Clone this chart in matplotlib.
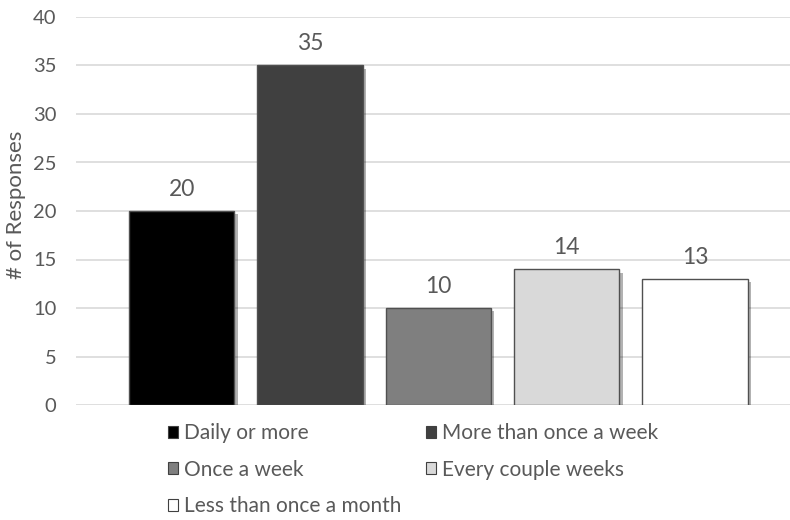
import matplotlib
matplotlib.use("Agg")
import matplotlib.pyplot as plt
import matplotlib.patheffects as pe
from matplotlib.patches import Patch

categories = ["Daily or more", "More than once a week", "Once a week",
              "Every couple weeks", "Less than once a month"]
responses = [20, 35, 10, 14, 13]
fills = ["#000000", "#404040", "#7f7f7f", "#d9d9d9", "#ffffff"]
yticks = [0, 5, 10, 15, 20, 25, 30, 35, 40]

TEXT = "#595959"
plt.rcParams["font.family"] = ["Lato", "DejaVu Sans"]

fig = plt.figure(figsize=(7.9, 5.2), dpi=100)
ax = fig.add_axes([76 / 790, 1 - 405 / 520, 1 - 76 / 790, (405 - 17) / 520])

shadow = [pe.SimplePatchShadow(offset=(2.5, -2.5), shadow_rgbFace="#000000", alpha=0.3),
          pe.Normal()]
xs = range(len(categories))
bars = ax.bar(xs, responses, width=0.82, color=fills, edgecolor="#505050",
              linewidth=1.0, zorder=3)
for b in bars:
    b.set_path_effects(shadow)

for x, v in zip(xs, responses):
    ax.annotate(str(v), (x, v), xytext=(0, 8), textcoords="offset points",
                ha="center", va="bottom", fontsize=16.5, color=TEXT)

ax.set_xlim(-0.824, 4.74)
ax.set_ylim(0, 40)
ax.set_yticks(yticks)
ax.set_xticks([])
ax.yaxis.grid(True, color="#d9d9d9", linewidth=1.2, zorder=0)
ax.set_axisbelow(True)
for s in ax.spines.values():
    s.set_visible(False)
ax.tick_params(axis="y", length=0, pad=14, labelsize=14.5, labelcolor=TEXT)
ax.set_ylabel("# of Responses", fontsize=16, color=TEXT, labelpad=5, y=0.515)

handles = [Patch(facecolor=f, edgecolor="#404040", linewidth=0.8) for f in fills]
# row-major order for a two-column legend
order = [0, 2, 4, 1, 3]
fig.legend([handles[i] for i in order], [categories[i] for i in order],
           ncol=2, loc="upper left", bbox_to_anchor=(168 / 790, 1 - 423 / 520),
           frameon=False, fontsize=15, labelcolor=TEXT,
           borderpad=0, borderaxespad=0,
           handlelength=0.5, handleheight=0.5, handletextpad=0.25,
           labelspacing=0.8, columnspacing=1.2)

fig.savefig("out.png", dpi=100, facecolor="white")
